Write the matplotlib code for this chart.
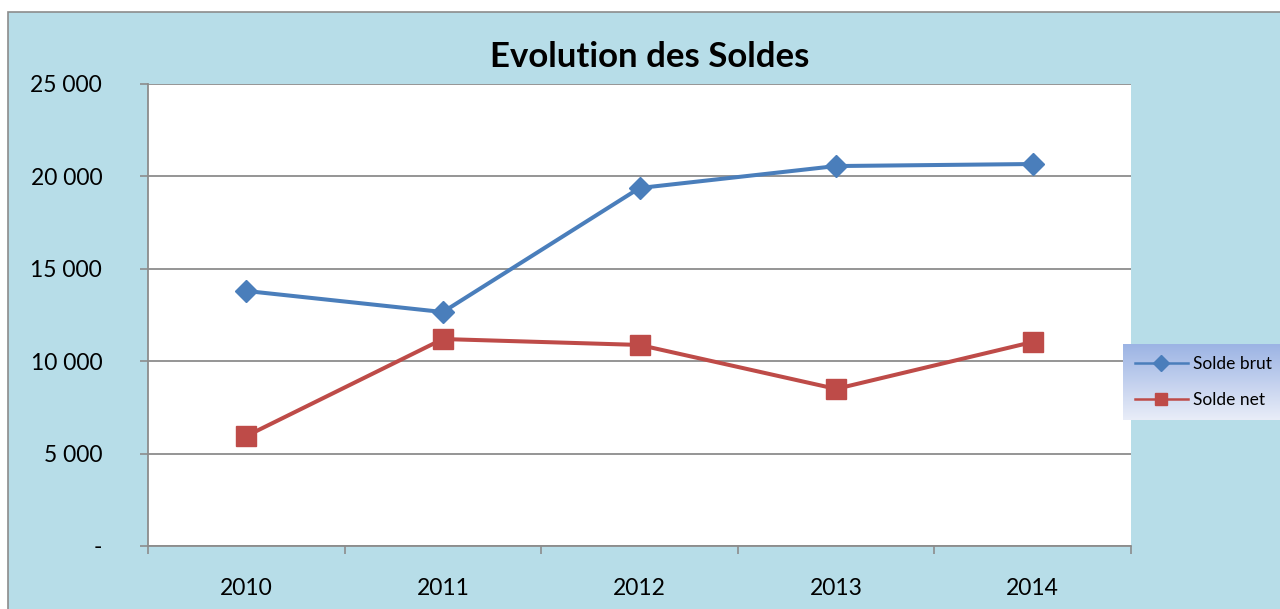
import numpy as np
import matplotlib
matplotlib.use('Agg')
import matplotlib.pyplot as plt
from matplotlib.patches import Rectangle
from matplotlib.lines import Line2D

plt.rcParams['font.family'] = ['Lato', 'DejaVu Sans']

years = ['2010', '2011', '2012', '2013', '2014']
solde_brut = [13800, 12660, 19370, 20560, 20670]
solde_net = [5950, 11200, 10880, 8500, 11040]
yticks = [0, 5000, 10000, 15000, 20000, 25000]
ytick_labels = ['-', '5 000', '10 000', '15 000', '20 000', '25 000']

BLUE = '#4A7EBB'
RED = '#BE4B48'
GREY = '#8C8C8C'

W, H = 1280, 609
fig = plt.figure(figsize=(W / 100, H / 100), dpi=100)
fig.patch.set_facecolor('white')

# chart area background with grey border (cut off right/bottom)
fig.patches.append(Rectangle((8 / W, -0.1), 1.2, (H - 12) / H + 0.1,
                             transform=fig.transFigure, facecolor='#B7DDE8',
                             edgecolor=GREY, linewidth=1.2, zorder=-5))

ax = fig.add_axes([148 / W, (H - 546) / H, (1131 - 148) / W, (546 - 84) / H])
ax.set_facecolor('white')
x = np.arange(len(years))
ax.plot(x, solde_brut, color=BLUE, lw=2.9, marker='D', ms=11.5, zorder=3)
ax.plot(x, solde_net, color=RED, lw=2.9, marker='s', ms=14, zorder=3)

ax.set_xlim(-0.5, len(years) - 0.5)
ax.set_ylim(0, 25000)
ax.set_yticks(yticks)
ax.set_yticklabels(ytick_labels, fontsize=16.5)
ax.set_xticks(x)
ax.set_xticklabels(years, fontsize=16.5)
ax.set_xticks(np.arange(-0.5, len(years)), minor=True)
ax.tick_params(axis='x', which='major', length=0, pad=23)
ax.tick_params(axis='x', which='minor', length=6, width=1.2, color=GREY)
ax.tick_params(axis='y', length=6, width=1.2, color=GREY, pad=27)
ax.grid(axis='y', color=GREY, lw=1.3, zorder=1)
for s in ['top', 'right']:
    ax.spines[s].set_visible(False)
for s in ['left', 'bottom']:
    ax.spines[s].set_color(GREY)
    ax.spines[s].set_linewidth(1.3)

fig.text(650 / W, 1 - 57 / H, 'Evolution des Soldes', ha='center', va='center',
         fontsize=25, fontweight='bold')

# legend with gradient background
lax = fig.add_axes([1123 / W, (H - 420) / H, 160 / W, 76 / H])
grad = np.linspace(0, 1, 100).reshape(-1, 1)
top = np.array([0x9C, 0xB4, 0xE4]) / 255
bot = np.array([0xE9, 0xED, 0xF8]) / 255
img = top[None, None, :] * (1 - grad[:, :, None]) + bot[None, None, :] * grad[:, :, None]
lax.imshow(img, aspect='auto', extent=[0, 1, 0, 1])
lax.set_axis_off()
handles = [Line2D([], [], color=BLUE, lw=1.8, marker='D', ms=8),
           Line2D([], [], color=RED, lw=1.8, marker='s', ms=9)]
lax.legend(handles, ['Solde brut', 'Solde net'], loc='center left',
           bbox_to_anchor=(-0.02, 0.5), frameon=False, fontsize=12.5,
           handlelength=3.0, handletextpad=0.3, labelspacing=1.2)

fig.savefig('out.png', dpi=100)
